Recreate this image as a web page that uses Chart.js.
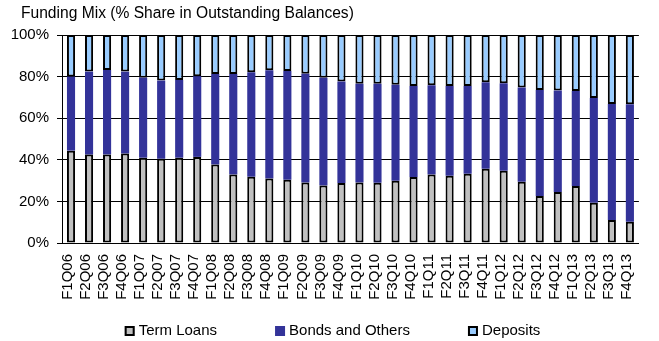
<!DOCTYPE html>
<html>
<head>
<meta charset="utf-8">
<script src="https://cdn.jsdelivr.net/npm/chart.js@4.4.1/dist/chart.umd.min.js"></script>
<style>
  html, body { margin: 0; padding: 0; background: #ffffff; }
  #wrap { width: 659px; height: 341px; position: relative; }
</style>
</head>
<body>
<div id="wrap"><canvas id="c" width="659" height="341"></canvas></div>
<script>
// Quarterly funding mix, % share of outstanding balances
const quarters = [
  'F1Q06','F2Q06','F3Q06','F4Q06','F1Q07','F2Q07','F3Q07','F4Q07',
  'F1Q08','F2Q08','F3Q08','F4Q08','F1Q09','F2Q09','F3Q09','F4Q09',
  'F1Q10','F2Q10','F3Q10','F4Q10','F1Q11','F2Q11','F3Q11','F4Q11',
  'F1Q12','F2Q12','F3Q12','F4Q12','F1Q13','F2Q13','F3Q13','F4Q13'
];
const termLoans = [
  44.4, 42.5, 42.5, 43.0, 41.0, 40.5, 41.0, 41.4,
  37.7, 32.9, 31.8, 31.0, 30.4, 29.1, 27.7, 28.8,
  29.1, 29.0, 29.9, 31.7, 32.9, 32.3, 33.3, 35.7,
  34.7, 29.4, 22.6, 24.5, 27.4, 19.4, 11.0, 10.2
];
const bondsAndOthers = [
  35.6, 39.9, 40.7, 39.4, 38.5, 37.6, 37.4, 38.8,
  43.6, 48.4, 50.3, 52.0, 52.3, 52.3, 51.7, 48.8,
  47.5, 47.6, 46.2, 43.8, 42.9, 43.2, 42.2, 41.6,
  42.1, 45.3, 51.0, 48.8, 45.7, 50.3, 55.8, 56.5
];
const deposits = [
  20.0, 17.6, 16.8, 17.6, 20.5, 21.9, 21.6, 19.8,
  18.7, 18.7, 17.9, 17.0, 17.3, 18.6, 20.6, 22.4,
  23.4, 23.4, 23.9, 24.5, 24.2, 24.5, 24.5, 22.7,
  23.2, 25.3, 26.4, 26.7, 26.9, 30.3, 33.2, 33.3
];
const yTicks = [0, 20, 40, 60, 80, 100];
const chartTitle = 'Funding Mix (% Share in Outstanding Balances)';

const FONT = '"Liberation Sans", Arial, sans-serif';

// Title and legend drawn on the canvas
const headerAndKey = {
  id: 'headerAndKey',
  afterDraw(chart) {
    const ctx = chart.ctx;
    ctx.save();
    ctx.fillStyle = '#000';
    ctx.textAlign = 'left';
    ctx.textBaseline = 'middle';
    ctx.font = '15.6px ' + FONT;
    ctx.fillText(chartTitle, 21, 14);

    ctx.font = '15px ' + FONT;
    const box = 10, gap = 4, spacing = 58;
    const items = chart.data.datasets.map(ds => ({
      text: ds.label,
      fill: ds.backgroundColor,
      stroke: ds.legendBorder,
      w: box + gap + ctx.measureText(ds.label).width
    }));
    const total = items.reduce((s, it) => s + it.w, 0) + spacing * (items.length - 1);
    let x = chart.width / 2 + 3 - total / 2;
    const yMid = 331;
    items.forEach(it => {
      ctx.fillStyle = it.fill;
      ctx.fillRect(x, yMid - box / 2, box, box);
      if (it.stroke) {
        ctx.strokeStyle = it.stroke;
        ctx.lineWidth = 2;
        ctx.strokeRect(x + 1, yMid - box / 2 + 1, box - 2, box - 2);
      }
      ctx.fillStyle = '#000';
      ctx.fillText(it.text, x + box + gap, yMid);
      x += it.w + spacing;
    });
    ctx.restore();
  }
};

new Chart(document.getElementById('c'), {
  type: 'bar',
  data: {
    labels: quarters,
    datasets: [
      {
        label: 'Term Loans',
        data: termLoans,
        backgroundColor: '#C0C0C0',
        borderColor: '#000000',
        legendBorder: '#000000',
        borderWidth: 2,
        borderSkipped: false
      },
      {
        label: 'Bonds and Others',
        data: bondsAndOthers,
        backgroundColor: '#333399',
        borderWidth: 0,
        legendBorder: null
      },
      {
        label: 'Deposits',
        data: deposits,
        backgroundColor: '#99CCFF',
        borderColor: '#000000',
        legendBorder: '#000000',
        borderWidth: 2,
        borderSkipped: false
      }
    ]
  },
  options: {
    responsive: false,
    animation: false,
    devicePixelRatio: 1,
    layout: { padding: { top: 35, right: 7, left: 0, bottom: 0 } },
    datasets: {
      bar: { categoryPercentage: 1.0, barPercentage: 0.45 }
    },
    plugins: {
      legend: { display: false },
      title: { display: false },
      tooltip: { enabled: false }
    },
    scales: {
      x: {
        stacked: true,
        grid: { display: false, drawTicks: false },
        border: { display: true, color: '#000', width: 1 },
        ticks: {
          color: '#000',
          font: { size: 15, family: FONT },
          minRotation: 90,
          maxRotation: 90,
          autoSkip: false,
          padding: 11,
          labelOffset: -3
        },
        afterFit(scale) { scale.height = 98; }
      },
      y: {
        stacked: true,
        min: 0,
        max: 100,
        afterBuildTicks(scale) { scale.ticks = yTicks.map(v => ({ value: v })); },
        grid: {
          color: '#000',
          lineWidth: 1,
          drawTicks: true,
          tickLength: 5
        },
        border: { display: true, color: '#000', width: 1 },
        ticks: {
          color: '#000',
          font: { size: 15, family: FONT },
          padding: 8,
          callback: v => v + '%'
        },
        afterFit(scale) { scale.width = 62; }
      }
    }
  },
  plugins: [headerAndKey]
});
</script>
</body>
</html>
